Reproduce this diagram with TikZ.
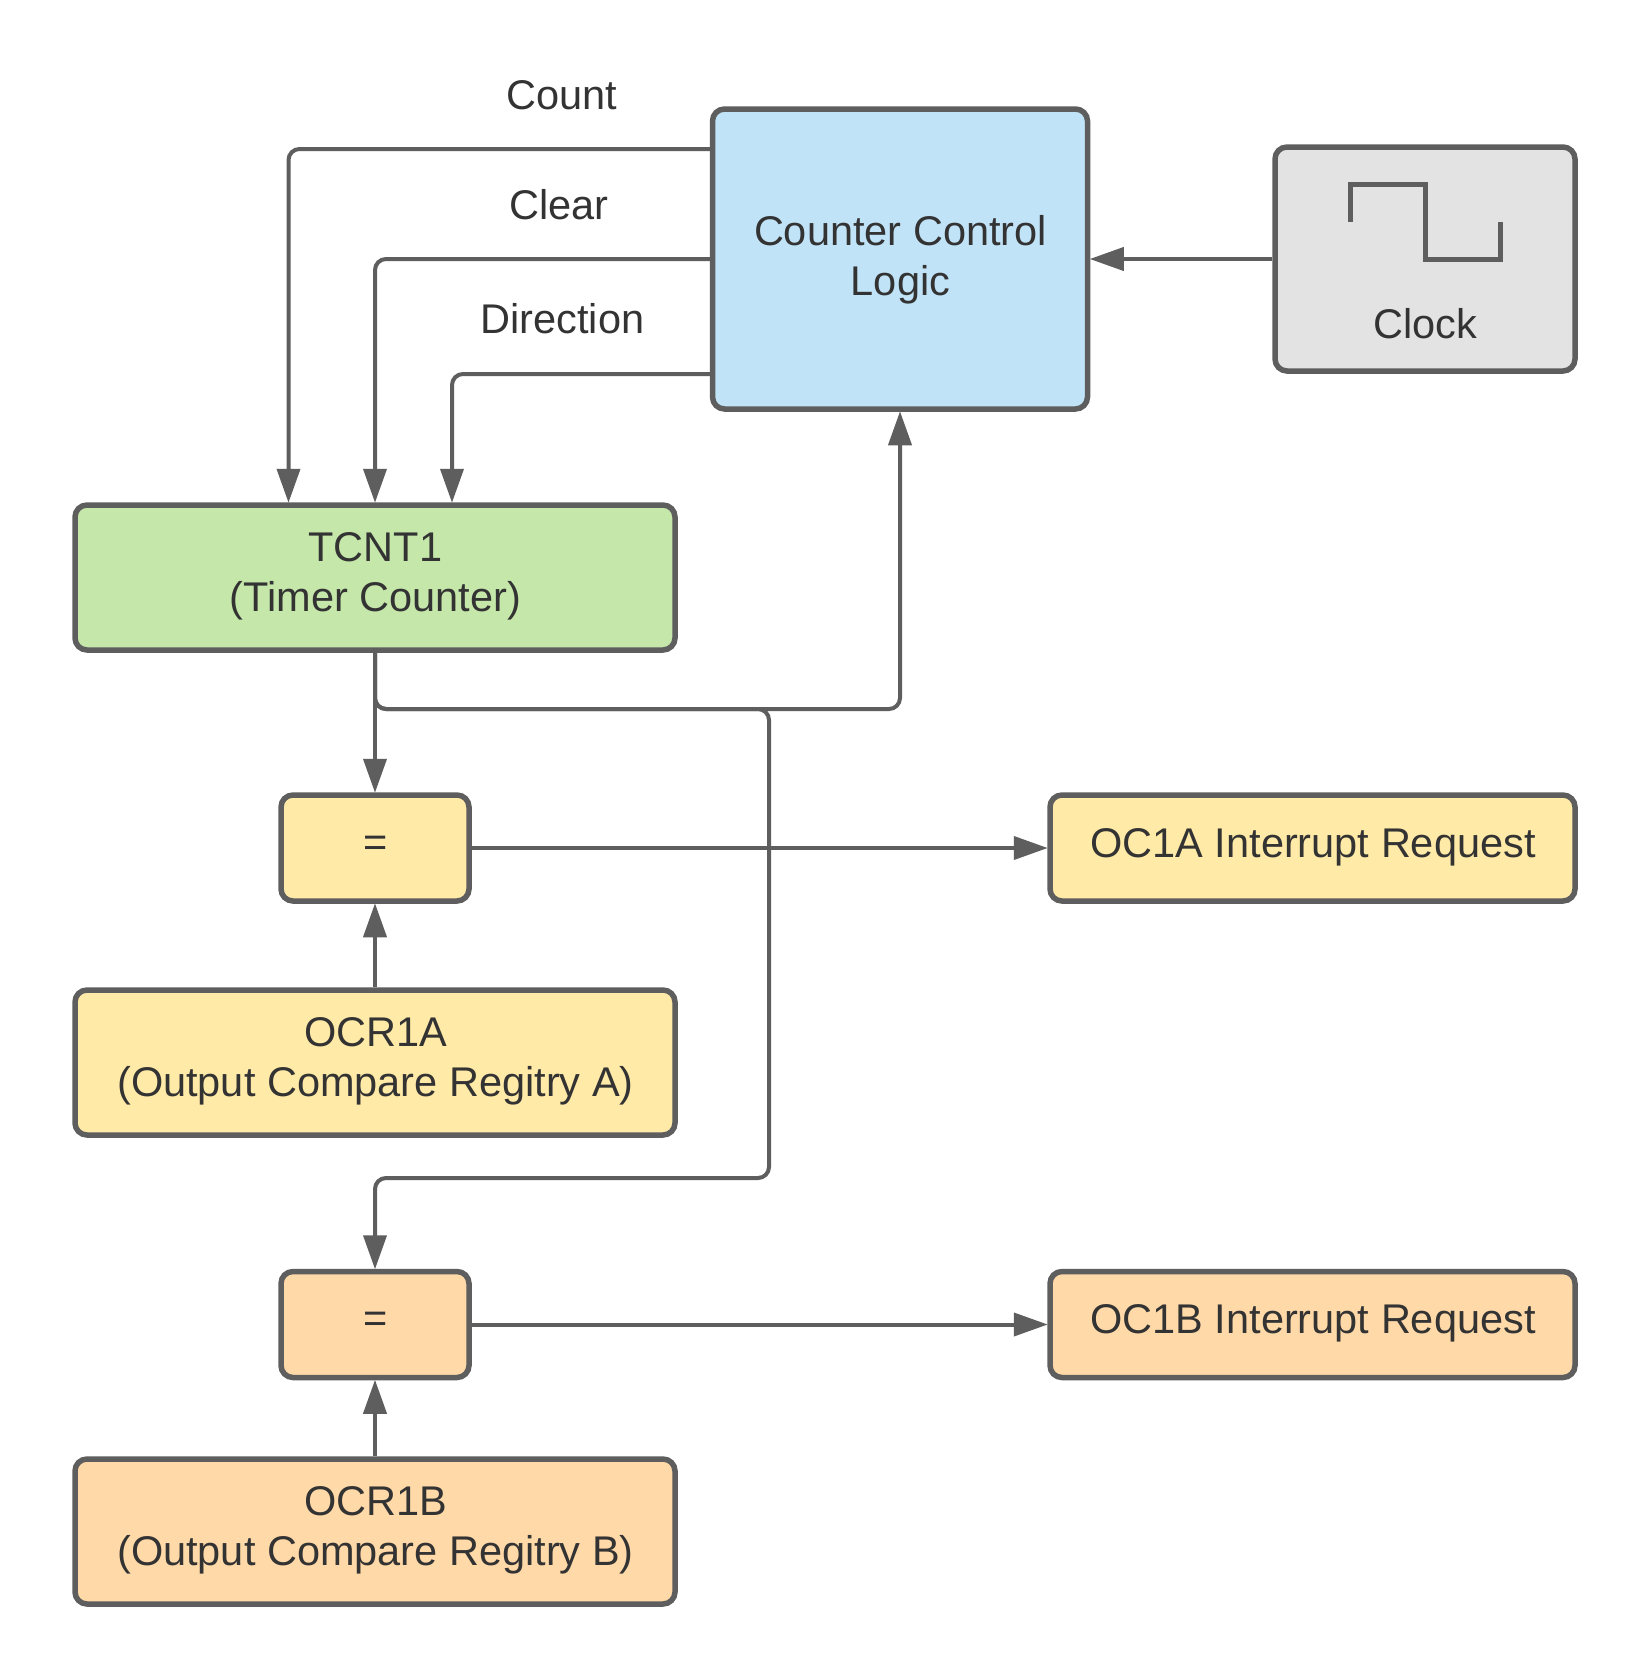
\documentclass[tikz,border=0pt]{standalone}
\usepackage{fontspec}
\setmainfont{Liberation Sans}
\usetikzlibrary{arrows.meta,calc}
\definecolor{edge}{HTML}{5E5E5E}
\definecolor{txt}{HTML}{333333}
\definecolor{cblue}{HTML}{C1E3F7}
\definecolor{cgreen}{HTML}{C5E7AA}
\definecolor{cyellow}{HTML}{FFEAA7}
\definecolor{corange}{HTML}{FFD9A8}
\definecolor{cgray}{HTML}{E3E3E3}
\tikzset{
  box/.style={draw=edge,line width=5.5pt,rounded corners=12pt,inner sep=0pt},
  lbl/.style={text=txt,inner sep=0pt,align=center,font=\fontsize{41.5}{50}\selectfont},
  conn/.style={draw=edge,line width=4pt,rounded corners=11pt,
    -{Triangle[length=34pt,width=23pt]},shorten >=-0.5pt},
  wave/.style={draw=edge,line width=5pt,miter limit=10}
}
\begin{document}
\begin{tikzpicture}[x=1pt,y=-1pt]
\useasboundingbox[fill=white] (0,0) rectangle (1650,1678);

\node[box,fill=cblue,minimum width=375pt,minimum height=300pt] (counter) at (900,259) {};
\node[lbl] (counterlabel) at (900.5,260) {Counter Control\\Logic};
\node[box,fill=cgray,minimum width=300pt,minimum height=224pt] (clock) at (1425,259) {};
\node[lbl] (clocklabel) at (1425,324) {Clock};
\draw[wave] (1350,222) -- (1350,184) -- (1425,184) -- (1425,259) -- (1500,259) -- (1500,222);

\node[box,fill=cgreen,minimum width=600pt,minimum height=145pt] (tcnt) at (375,577.5) {};
\node[lbl] (tcntlabel) at (375.5,576) {TCNT1\\(Timer Counter)};

\node[box,fill=cyellow,minimum width=188pt,minimum height=106pt] (eqa) at (375,848) {};
\node[lbl] (eqalabel) at (375.5,846) {=};
\node[box,fill=cyellow,minimum width=600pt,minimum height=145pt] (ocra) at (375,1062.5) {};
\node[lbl] (ocralabel) at (375.5,1061) {OCR1A\\(Output Compare Regitry A)};
\node[box,fill=cyellow,minimum width=525pt,minimum height=106pt] (oca) at (1312.5,848) {};
\node[lbl] (ocalabel) at (1313,847) {OC1A Interrupt Request};

\node[box,fill=corange,minimum width=188pt,minimum height=106pt] (eqb) at (375,1324.5) {};
\node[lbl] (eqblabel) at (375.5,1322) {=};
\node[box,fill=corange,minimum width=600pt,minimum height=145pt] (ocrb) at (375,1531.5) {};
\node[lbl] (ocrblabel) at (375.5,1530) {OCR1B\\(Output Compare Regitry B)};
\node[box,fill=corange,minimum width=525pt,minimum height=106pt] (ocb) at (1312.5,1324.5) {};
\node[lbl] (ocblabel) at (1313,1323) {OC1B Interrupt Request};

\node[lbl] (lcount) at (562,95) {Count};
\node[lbl] (lclear) at (559,205) {Clear};
\node[lbl] (ldir) at (562.5,319) {Direction};

\coordinate (ycount) at (0,149);
\coordinate (xcount) at (288.5,0);
\coordinate (ydir) at (0,374);
\coordinate (xdir) at (452,0);
\coordinate (yjunc) at (0,709);
\coordinate (xbranch) at (769,0);
\coordinate (ybranch) at (0,1178);

\draw[conn] (clock.west) -- (counter.east);
\draw[conn] (counter.west |- ycount) -| (tcnt.north -| xcount);
\draw[conn] (counter.west) -| (tcnt.north);
\draw[conn] (counter.west |- ydir) -| (tcnt.north -| xdir);

\draw[conn] (tcnt.south) -- (eqa.north);
\draw[conn] (tcnt.south) |- (counter.south |- yjunc) -- (counter.south);
\draw[conn] (tcnt.south) |- (xbranch |- yjunc) -- (xbranch |- ybranch) -| (eqb.north);

\draw[conn] (ocra.north) -- (eqa.south);
\draw[conn] (ocrb.north) -- (eqb.south);
\draw[conn] (eqa.east) -- (oca.west);
\draw[conn] (eqb.east) -- (ocb.west);
\end{tikzpicture}
\end{document}
